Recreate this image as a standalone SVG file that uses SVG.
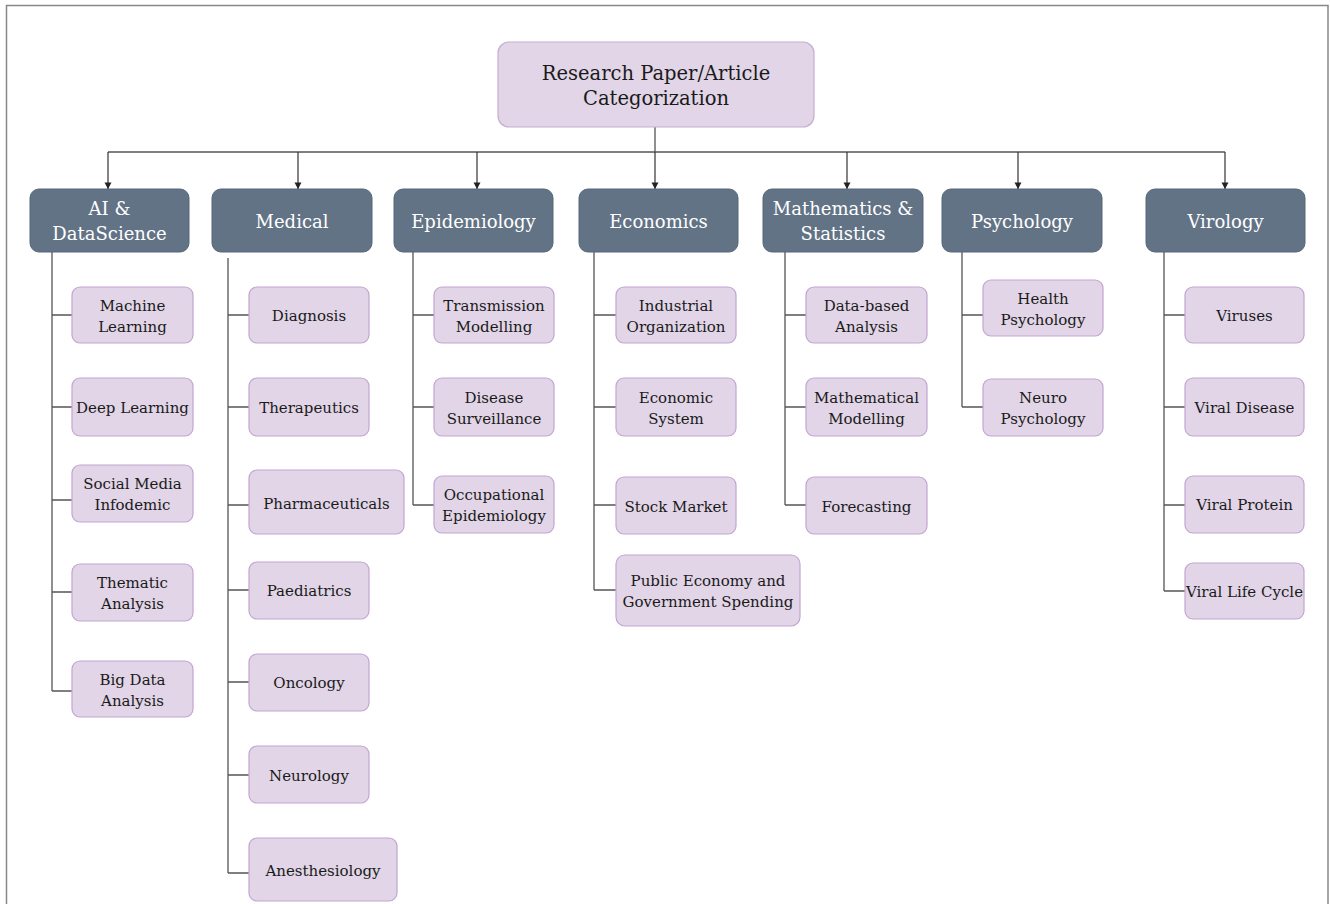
<svg xmlns="http://www.w3.org/2000/svg" width="1330" height="904" viewBox="0 0 1330 904">
<defs>
<marker id="arr" markerWidth="8" markerHeight="8" refX="7" refY="4" orient="auto" markerUnits="userSpaceOnUse">
<path d="M0.5,0.5 L7,4 L0.5,7.5 Z" fill="#222"/>
</marker>
<style>
.frame{fill:#fff;stroke:#888;stroke-width:1.5}
.root{fill:#e1d5e7;stroke:#c6aed3;stroke-width:1.2}
.cat{fill:#627386;stroke:#56677a;stroke-width:1}
.leaf{fill:#e1d5e7;stroke:#c3a5d1;stroke-width:1.2}
.ct{font-family:"DejaVu Serif","Liberation Serif",serif;font-size:18px;fill:#fff;text-anchor:middle}
.rt{font-family:"DejaVu Serif","Liberation Serif",serif;font-size:19.5px;fill:#1a1a1a;text-anchor:middle}
.lt{font-family:"DejaVu Serif","Liberation Serif",serif;font-size:15px;fill:#1a1a1a;text-anchor:middle}
.ln{fill:none;stroke:#555;stroke-width:1.3}
.arrow{fill:none;stroke:#333;stroke-width:1.2;marker-end:url(#arr)}
</style>
</defs>
<rect class="frame" x="6.5" y="5.5" width="1321.5" height="910"/>

<g id="connectors">
<path class="ln" d="M655,127 V152 M108,152 H1225"/>
<path class="arrow" d="M108,152 V189"/>
<path class="arrow" d="M298,152 V189"/>
<path class="arrow" d="M477,152 V189"/>
<path class="arrow" d="M655,152 V189"/>
<path class="arrow" d="M847,152 V189"/>
<path class="arrow" d="M1018,152 V189"/>
<path class="arrow" d="M1225,152 V189"/>
<path class="ln" d="M52,252 V691 M52,315 H72 M52,407 H72 M52,500 H72 M52,592 H72 M52,691 H72" stroke="#999"/>
<path class="ln" d="M228,258 V873 M228,315 H249 M228,407 H249 M228,505 H249 M228,590 H249 M228,682 H249 M228,775 H249 M228,873 H249"/>
<path class="ln" d="M413,252 V505 M413,315 H434 M413,407 H434 M413,505 H434"/>
<path class="ln" d="M594,252 V590 M594,315 H616 M594,407 H616 M594,505 H616 M594,590 H616"/>
<path class="ln" d="M785,252 V505 M785,315 H806 M785,407 H806 M785,505 H806"/>
<path class="ln" d="M962,252 V407 M962,315 H983 M962,407 H983"/>
<path class="ln" d="M1164,252 V591 M1164,315 H1185 M1164,407 H1185 M1164,505 H1185 M1164,591 H1185"/>
</g>

<g id="root">
<rect class="root" x="498" y="42" width="316" height="85" rx="11"/>
<text class="rt" x="656" y="80">Research Paper/Article</text>
<text class="rt" x="656" y="105">Categorization</text>
</g>

<g id="cat-ai"><rect class="cat" x="30" y="189" width="159" height="63" rx="9"/>
<text class="ct" x="109.5" y="215">AI &amp;</text><text class="ct" x="109.5" y="240">DataScience</text></g>
<g id="cat-medical"><rect class="cat" x="212" y="189" width="160" height="63" rx="9"/>
<text class="ct" x="292" y="228">Medical</text></g>
<g id="cat-epidemiology"><rect class="cat" x="394" y="189" width="159" height="63" rx="9"/>
<text class="ct" x="473.5" y="228">Epidemiology</text></g>
<g id="cat-economics"><rect class="cat" x="579" y="189" width="159" height="63" rx="9"/>
<text class="ct" x="658.5" y="228">Economics</text></g>
<g id="cat-math"><rect class="cat" x="763" y="189" width="160" height="63" rx="9"/>
<text class="ct" x="843" y="215">Mathematics &amp;</text><text class="ct" x="843" y="240">Statistics</text></g>
<g id="cat-psychology"><rect class="cat" x="942" y="189" width="160" height="63" rx="9"/>
<text class="ct" x="1022" y="228">Psychology</text></g>
<g id="cat-virology"><rect class="cat" x="1146" y="189" width="159" height="63" rx="9"/>
<text class="ct" x="1225.5" y="228">Virology</text></g>

<g id="ml"><rect class="leaf" x="72" y="287" width="121" height="56" rx="8"/>
<text class="lt" x="132.5" y="311">Machine</text><text class="lt" x="132.5" y="332">Learning</text></g>
<g id="dl"><rect class="leaf" x="72" y="378" width="121" height="58" rx="8"/>
<text class="lt" x="132.5" y="413">Deep Learning</text></g>
<g id="smi"><rect class="leaf" x="72" y="465" width="121" height="57" rx="8"/>
<text class="lt" x="132.5" y="489">Social Media</text><text class="lt" x="132.5" y="510">Infodemic</text></g>
<g id="ta"><rect class="leaf" x="72" y="564" width="121" height="57" rx="8"/>
<text class="lt" x="132.5" y="588">Thematic</text><text class="lt" x="132.5" y="609">Analysis</text></g>
<g id="bda"><rect class="leaf" x="72" y="661" width="121" height="56" rx="8"/>
<text class="lt" x="132.5" y="685">Big Data</text><text class="lt" x="132.5" y="706">Analysis</text></g>

<g id="diagnosis"><rect class="leaf" x="249" y="287" width="120" height="56" rx="8"/>
<text class="lt" x="309" y="321">Diagnosis</text></g>
<g id="therapeutics"><rect class="leaf" x="249" y="378" width="120" height="58" rx="8"/>
<text class="lt" x="309" y="413">Therapeutics</text></g>
<g id="pharma"><rect class="leaf" x="249" y="470" width="155" height="64" rx="8"/>
<text class="lt" x="326.5" y="509">Pharmaceuticals</text></g>
<g id="paediatrics"><rect class="leaf" x="249" y="562" width="120" height="57" rx="8"/>
<text class="lt" x="309" y="596">Paediatrics</text></g>
<g id="oncology"><rect class="leaf" x="249" y="654" width="120" height="57" rx="8"/>
<text class="lt" x="309" y="688">Oncology</text></g>
<g id="neurology"><rect class="leaf" x="249" y="746" width="120" height="57" rx="8"/>
<text class="lt" x="309" y="781">Neurology</text></g>
<g id="anesthesiology"><rect class="leaf" x="249" y="838" width="148" height="63" rx="8"/>
<text class="lt" x="323" y="876">Anesthesiology</text></g>

<g id="tm"><rect class="leaf" x="434" y="287" width="120" height="56" rx="8"/>
<text class="lt" x="494" y="311">Transmission</text><text class="lt" x="494" y="332">Modelling</text></g>
<g id="ds"><rect class="leaf" x="434" y="378" width="120" height="58" rx="8"/>
<text class="lt" x="494" y="403">Disease</text><text class="lt" x="494" y="424">Surveillance</text></g>
<g id="oe"><rect class="leaf" x="434" y="476" width="120" height="57" rx="8"/>
<text class="lt" x="494" y="500">Occupational</text><text class="lt" x="494" y="521">Epidemiology</text></g>

<g id="io"><rect class="leaf" x="616" y="287" width="120" height="56" rx="8"/>
<text class="lt" x="676" y="311">Industrial</text><text class="lt" x="676" y="332">Organization</text></g>
<g id="es"><rect class="leaf" x="616" y="378" width="120" height="58" rx="8"/>
<text class="lt" x="676" y="403">Economic</text><text class="lt" x="676" y="424">System</text></g>
<g id="sm"><rect class="leaf" x="616" y="477" width="120" height="57" rx="8"/>
<text class="lt" x="676" y="512">Stock Market</text></g>
<g id="pe"><rect class="leaf" x="616" y="555" width="184" height="71" rx="9"/>
<text class="lt" x="708" y="586">Public Economy and</text><text class="lt" x="708" y="607">Government Spending</text></g>

<g id="dba"><rect class="leaf" x="806" y="287" width="121" height="56" rx="8"/>
<text class="lt" x="866.5" y="311">Data-based</text><text class="lt" x="866.5" y="332">Analysis</text></g>
<g id="mm"><rect class="leaf" x="806" y="378" width="121" height="58" rx="8"/>
<text class="lt" x="866.5" y="403">Mathematical</text><text class="lt" x="866.5" y="424">Modelling</text></g>
<g id="fc"><rect class="leaf" x="806" y="477" width="121" height="57" rx="8"/>
<text class="lt" x="866.5" y="512">Forecasting</text></g>

<g id="hp"><rect class="leaf" x="983" y="280" width="120" height="56" rx="8"/>
<text class="lt" x="1043" y="304">Health</text><text class="lt" x="1043" y="325">Psychology</text></g>
<g id="np"><rect class="leaf" x="983" y="379" width="120" height="57" rx="8"/>
<text class="lt" x="1043" y="403">Neuro</text><text class="lt" x="1043" y="424">Psychology</text></g>

<g id="viruses"><rect class="leaf" x="1185" y="287" width="119" height="56" rx="8"/>
<text class="lt" x="1244.5" y="321">Viruses</text></g>
<g id="vd"><rect class="leaf" x="1185" y="378" width="119" height="58" rx="8"/>
<text class="lt" x="1244.5" y="413">Viral Disease</text></g>
<g id="vp"><rect class="leaf" x="1185" y="476" width="119" height="57" rx="8"/>
<text class="lt" x="1244.5" y="510">Viral Protein</text></g>
<g id="vlc"><rect class="leaf" x="1185" y="563" width="119" height="56" rx="8"/>
<text class="lt" x="1244.5" y="597">Viral Life Cycle</text></g>
</svg>
